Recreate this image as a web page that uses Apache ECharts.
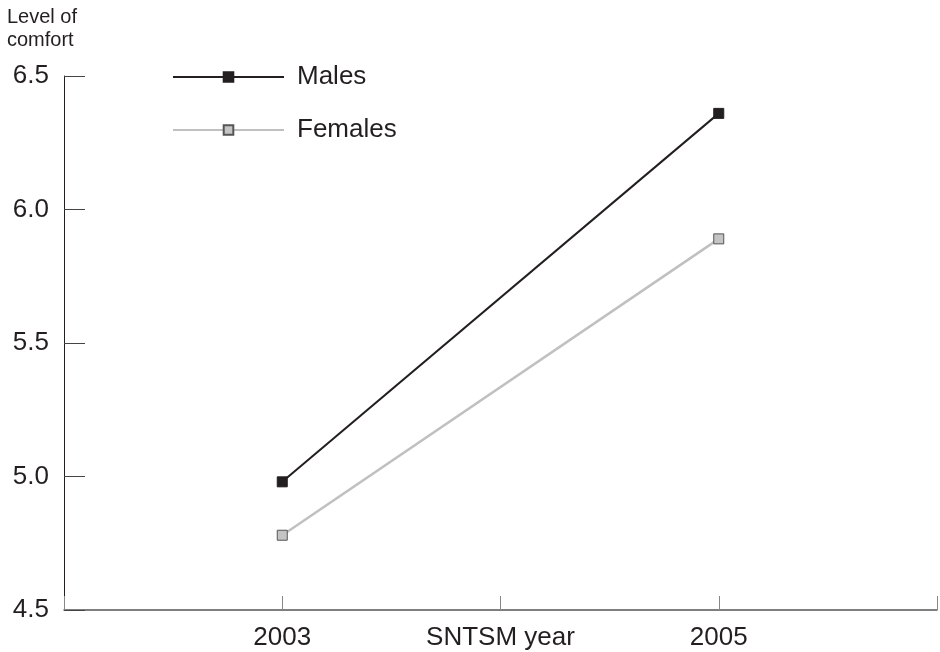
<!DOCTYPE html>
<html><head><meta charset="utf-8">
<script src="https://cdn.jsdelivr.net/npm/echarts@6/dist/echarts.min.js"></script>
<style>html,body{margin:0;padding:0;background:#fff}#c{width:940px;height:652px}</style>
</head><body><div id="c"></div>
<script>
const years = [2003, 2005];
const males = [4.98, 6.36];
const females = [4.78, 5.89];
const xTickLabels = {2003: '2003', 2004: 'SNTSM year', 2005: '2005'};
const yTitle = 'Level of\ncomfort';

const chart = echarts.init(document.getElementById('c'));
const font = 'Liberation Sans, Arial, sans-serif';
chart.setOption({
  animation: false,
  backgroundColor: '#fff',
  textStyle: {fontFamily: font},
  title: {text: yTitle, left: 7, top: 6, padding: 0, textStyle: {fontSize: 20, fontWeight: 'normal', color: '#231f20', lineHeight: 23, fontFamily: font}},
  legend: {
    orient: 'vertical', left: 172, top: 64, padding: 0, itemWidth: 111, itemHeight: 12, itemGap: 27,
    textStyle: {fontSize: 26, lineHeight: 26, color: '#231f20', fontFamily: font, padding: [0,0,0,8]},
    data: ['Males', 'Females']
  },
  grid: {left: 64, right: 0.5, top: 76, bottom: 42, containLabel: false},
  xAxis: {
    type: 'value', min: 2002, max: 2006, interval: 1,
    axisLine: {lineStyle: {color: '#555', width: 1.5}},
    axisTick: {inside: true, length: 14, lineStyle: {color: '#888', width: 1}},
    splitLine: {show: false},
    axisLabel: {fontSize: 26, color: '#231f20', margin: 15, fontFamily: font,
      formatter: v => xTickLabels[v] || ''}
  },
  yAxis: {
    type: 'value', min: 4.5, max: 6.5, interval: 0.5,
    axisLine: {show: true, lineStyle: {color: '#231f20', width: 1}},
    axisTick: {show: true, inside: true, length: 21, lineStyle: {color: '#444', width: 1}},
    splitLine: {show: false},
    axisLabel: {fontSize: 26, color: '#231f20', margin: 15, fontFamily: font,
      formatter: v => v.toFixed(1)}
  },
  series: [
    {name: 'Males', type: 'line', data: years.map((y,i)=>[y, males[i]]),
      symbol: 'rect', symbolSize: 10,
      lineStyle: {color: '#231f20', width: 2},
      itemStyle: {color: '#231f20', borderColor: '#231f20', borderWidth: 1}},
    {name: 'Females', type: 'line', data: years.map((y,i)=>[y, females[i]]),
      symbol: 'rect', symbolSize: 10,
      lineStyle: {color: '#c0c0c0', width: 2.5},
      itemStyle: {color: '#c4c4c4', borderColor: '#555', borderWidth: 1}}
  ]
});
</script></body></html>
